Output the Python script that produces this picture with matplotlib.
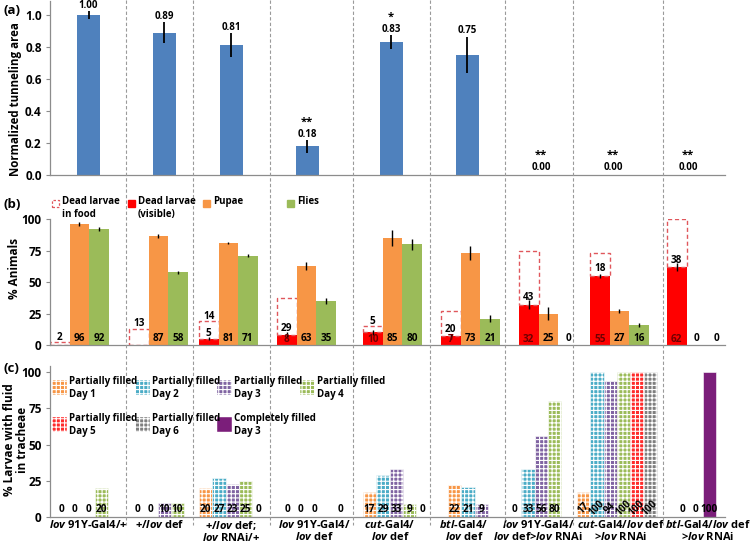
import matplotlib
matplotlib.use('Agg')
import matplotlib.pyplot as plt
import matplotlib.transforms as mtransforms
from matplotlib.patches import Rectangle
from matplotlib.lines import Line2D

FONT = 'Open Sans'
plt.rcParams['font.family'] = [FONT, 'DejaVu Sans']
plt.rcParams['font.weight'] = 'bold'
plt.rcParams['mathtext.fontset'] = 'custom'
plt.rcParams['mathtext.it'] = FONT + ':italic:bold'
plt.rcParams['mathtext.rm'] = FONT + ':bold'
plt.rcParams['hatch.linewidth'] = 0.8

# ---------------- data ----------------
genotypes = [r'$\mathit{lov}$ 91Y-Gal4/+',
             r'+/$\mathit{lov}$ def',
             '+/$\\mathit{lov}$ def;\n$\\mathit{lov}$ RNAi/+',
             '$\\mathit{lov}$ 91Y-Gal4/\n$\\mathit{lov}$ def',
             '$\\mathit{cut}$-Gal4/\n$\\mathit{lov}$ def',
             '$\\mathit{btl}$-Gal4/\n$\\mathit{lov}$ def',
             '$\\mathit{lov}$ 91Y-Gal4/\n$\\mathit{lov}$ def>$\\mathit{lov}$ RNAi',
             '$\\mathit{cut}$-Gal4/$\\mathit{lov}$ def\n>$\\mathit{lov}$ RNAi',
             '$\\mathit{btl}$-Gal4/$\\mathit{lov}$ def\n>$\\mathit{lov}$ RNAi']

tunnel = [1.00, 0.89, 0.81, 0.18, 0.83, 0.75, 0.00, 0.00, 0.00]
tunnel_err = [0.025, 0.066, 0.075, 0.04, 0.045, 0.115, 0, 0, 0]
tunnel_sig = ['', '', '', '**', '*', '', '**', '**', '**']

dead_food = [2, 13, 14, 29, 5, 20, 43, 18, 38]
dead_visible = [0, 0, 5, 8, 10, 7, 32, 55, 62]
dead_visible_err = [0, 0, 1.2, 2, 2, 2, 3.7, 1.7, 2.9]
pupae = [96, 87, 81, 63, 85, 73, 25, 27, 0]
pupae_err = [1.6, 1.7, 1.0, 3.2, 6.6, 5.7, 5.2, 1.6, 0]
flies = [92, 58, 71, 35, 80, 21, 0, 16, 0]
flies_err = [1.6, 1.2, 1.3, 2.4, 4.6, 3.0, 0, 1.3, 0]

fill_day1 = [0, 0, 20, 0, 17, 22, 0, 17, 0]
fill_day2 = [0, 0, 27, 0, 29, 21, 33, 100, 0]
fill_day3 = [0, 10, 23, 0, 33, 9, 56, 94, None]
fill_day4 = [20, 10, 25, None, 9, None, 80, 100, None]
fill_day5 = [None, None, 0, 0, 0, None, None, 100, None]
fill_day6 = [None, None, None, None, None, None, None, 100, None]
complete_day3 = [None, None, None, None, None, None, None, None, 100]

c_series = [
    ('Partially filled\nDay 1', fill_day1, '#F79646', 0, True),
    ('Partially filled\nDay 2', fill_day2, '#4BACC6', 1, True),
    ('Partially filled\nDay 3', fill_day3, '#8064A2', 2, True),
    ('Partially filled\nDay 4', fill_day4, '#9BBB59', 3, True),
    ('Partially filled\nDay 5', fill_day5, '#FF2A2A', 4, True),
    ('Partially filled\nDay 6', fill_day6, '#7F7F7F', 5, True),
    ('Completely filled\nDay 3', complete_day3, '#7B1E7A', 2, False),
]

# ---------------- layout ----------------
W, H = 750, 547
XMAX = 675
sep = [76, 143, 220, 303, 380, 455, 523, 613]
a_center = [38.5, 114, 181, 257, 341, 417, 491, 563, 638]
a_w = 23
b_start = [0, 79, 149, 227, 313, 391, 469, 540, 617]
b_w = 19.6
c_start = [5, 81, 149, 231, 313, 398, 458, 527, 626]
c_w = 13.3
lab_center = [38, 110, 181, 264, 340, 414, 488, 571, 658]

BLUE = '#4F81BD'; RED = '#FF0000'; ORANGE = '#F79646'; GREEN = '#9BBB59'
GRAY = '#8C8C8C'
HATCH = '++++'
TXT = 7.2


def fx(px):
    return px / W


def fy(py):
    return 1 - py / H


def ax_rect(top, bottom, left=50, right=725):
    return [left / W, 1 - bottom / H, (right - left) / W, (bottom - top) / H]


fig = plt.figure(figsize=(7.5, 5.47), dpi=100)
ax_a = fig.add_axes(ax_rect(175 - 1.09 * 160, 175))
ax_b = fig.add_axes(ax_rect(345 - 100 * 1.257, 345))
ax_c = fig.add_axes(ax_rect(517 - 104 * 1.45, 517))

for ax in (ax_a, ax_b, ax_c):
    ax.set_xlim(0, XMAX)
    for s in ('top', 'right'):
        ax.spines[s].set_visible(False)
    for s in ('left', 'bottom'):
        ax.spines[s].set_color(GRAY)
        ax.spines[s].set_linewidth(0.9)
    ax.set_xticks([])
    ax.tick_params(axis='y', direction='out', length=3, color=GRAY,
                   labelsize=8.5, pad=3)
    ax.patch.set_alpha(0)

# ---------------- panel (a) ----------------
ax_a.set_ylim(0, 1.09)
ax_a.set_yticks([0, 0.2, 0.4, 0.6, 0.8, 1.0])
ax_a.set_yticklabels(['%.1f' % v for v in [0, 0.2, 0.4, 0.6, 0.8, 1.0]])
ax_a.bar(a_center, tunnel, width=a_w, color=BLUE)
ax_a.errorbar(a_center, tunnel, yerr=tunnel_err, fmt='none', ecolor='black',
              elinewidth=1.3, capsize=0)
for x, v, e, s in zip(a_center, tunnel, tunnel_err, tunnel_sig):
    ly = v + e + 0.036 if v > 0 else 0.05
    ax_a.text(x, ly, '%.2f' % v, ha='center', va='center', fontsize=7)
    if s:
        ax_a.text(x, ly + 0.072, s, ha='center', va='center', fontsize=8)

# ---------------- panel (b) ----------------
ax_b.set_ylim(0, 100)
ax_b.set_yticks([0, 25, 50, 75, 100])
rx = [s + 0.5 * b_w for s in b_start]
px_ = [s + 1.5 * b_w for s in b_start]
gx = [s + 2.5 * b_w for s in b_start]
ax_b.bar(rx, dead_visible, width=b_w, color=RED)
ax_b.bar(rx, dead_food, width=b_w, bottom=dead_visible, fill=False,
         edgecolor='#E0575C', linestyle=(0, (3, 2)), linewidth=1.0)
ax_b.bar(px_, pupae, width=b_w, color=ORANGE)
ax_b.bar(gx, flies, width=b_w, color=GREEN)
for xs, vals, errs in ((rx, dead_visible, dead_visible_err),
                       (px_, pupae, pupae_err), (gx, flies, flies_err)):
    for x, v, e in zip(xs, vals, errs):
        if e > 0:
            ax_b.errorbar([x], [v], yerr=[e], fmt='none', ecolor='black',
                          elinewidth=1.0, capsize=0)
for i in range(9):
    r, f = dead_visible[i], dead_food[i]
    ax_b.text(px_[i], 5.5, str(pupae[i]), ha='center', va='center', fontsize=TXT)
    ax_b.text(gx[i], 5.5, str(flies[i]), ha='center', va='center', fontsize=TXT)
    if r >= 7:
        ax_b.text(rx[i], 4.5, str(r), ha='center', va='center', fontsize=TXT,
                  color='#6E0000')
    elif r > 0:
        ax_b.text(rx[i], r + 4.5, str(r), ha='center', va='center', fontsize=TXT)
    fy_ = r + f + 4 if f <= 14 else r + 5.5
    ax_b.text(rx[i], fy_, str(f), ha='center', va='center', fontsize=TXT)

# ---------------- panel (c) ----------------
ax_c.set_ylim(0, 104)
ax_c.set_yticks([0, 25, 50, 75, 100])
for name, vals, col, slot, hatched in c_series:
    for g, v in enumerate(vals):
        if v is None:
            continue
        x = c_start[g] + (slot + 0.5) * c_w
        if v > 0:
            if hatched:
                ax_c.bar([x], [v], width=c_w, color=col, edgecolor='white',
                         hatch=HATCH, linewidth=0.4)
            else:
                ax_c.bar([x], [v], width=c_w, color=col, edgecolor='white',
                         linewidth=0.4)
        rot = 45 if g == 7 else 0
        ax_c.text(x, 6 if rot else 5, str(v), ha='center', va='center',
                  fontsize=TXT, rotation=rot)

# ---------------- separators ----------------
trans = mtransforms.blended_transform_factory(ax_a.transData, fig.transFigure)
for s in sep:
    fig.lines.append(Line2D([s, s], [fy(0), fy(525)], transform=trans,
                            color='#9A9A9A', linewidth=0.8,
                            linestyle=(0, (3, 2))))

# ---------------- legends ----------------
leg_b = [('Dead larvae\nin food', None), ('Dead larvae\n(visible)', RED),
         ('Pupae', ORANGE), ('Flies', GREEN)]
leg_b_x = [52, 128, 203, 287]
for (lab, col), x in zip(leg_b, leg_b_x):
    if col is None:
        fig.patches.append(Rectangle((fx(x), fy(207)), 7 / W, 7 / H,
                                     transform=fig.transFigure, fill=False,
                                     edgecolor='#E0575C', linewidth=0.9,
                                     linestyle=(0, (2, 1.5))))
    else:
        fig.patches.append(Rectangle((fx(x), fy(207)), 7 / W, 7 / H,
                                     transform=fig.transFigure, color=col))
    fig.text(fx(x + 10), fy(196), lab, ha='left', va='top', fontsize=7,
             linespacing=1.2)

leg_c_x = [52, 135, 217, 300]
leg_c_y = [380, 417]
for k, (name, vals, col, slot, hatched) in enumerate(c_series):
    x = leg_c_x[k % 4] if k < 4 else leg_c_x[k - 4]
    y = leg_c_y[0] if k < 4 else leg_c_y[1]
    fig.patches.append(Rectangle((fx(x), fy(y + 15)), 15 / W, 15 / H,
                                 transform=fig.transFigure, facecolor=col,
                                 edgecolor='white', linewidth=0.3,
                                 hatch=HATCH if hatched else None))
    fig.text(fx(x + 17), fy(y - 4), name, ha='left', va='top', fontsize=7,
             linespacing=1.25)

# ---------------- axis labels ----------------
fig.text(fx(16), fy(99), 'Normalized tunneling area', rotation=90,
         ha='center', va='center', fontsize=8.3)
fig.text(fx(14), fy(268), '% Animals', rotation=90, ha='center',
         va='center', fontsize=8.5)
fig.text(fx(16), fy(440), '% Larvae with fluid\nin tracheae', rotation=90,
         ha='center', va='center', fontsize=8.5, multialignment='center',
         linespacing=1.0)
fig.text(fx(3), fy(11), '(a)', ha='left', va='center', fontsize=9.5)
fig.text(fx(3), fy(204), '(b)', ha='left', va='center', fontsize=9.5)
fig.text(fx(3), fy(368), '(c)', ha='left', va='center', fontsize=9.5)

# ---------------- category labels ----------------
transc = mtransforms.blended_transform_factory(ax_c.transData, fig.transFigure)
for x, lab in zip(lab_center, genotypes):
    ax_c.text(x, fy(519), lab, transform=transc, ha='center', va='top',
              fontsize=8, linespacing=1.0, multialignment='center')

fig.savefig('out.png', dpi=100)
